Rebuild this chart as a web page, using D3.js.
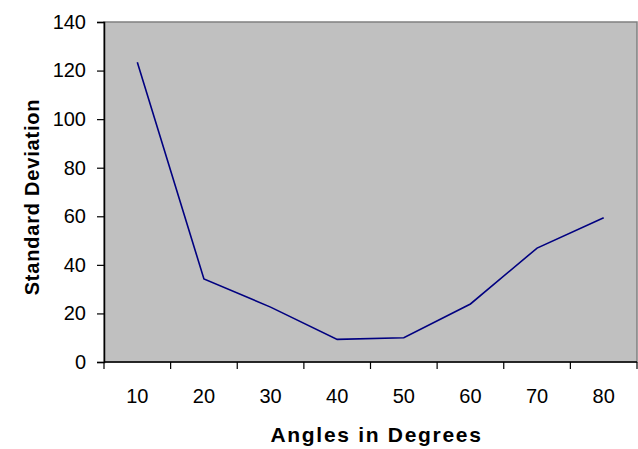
<!DOCTYPE html>
<html>
<head>
<meta charset="utf-8">
<script src="https://cdn.jsdelivr.net/npm/d3@7"></script>
<style>
  body { margin: 0; background: #fff; }
  svg { display: block; }
  text { font-family: "Liberation Sans", Arial, sans-serif; }
</style>
</head>
<body>
<svg id="chart" width="638" height="449"></svg>
<script>
// chart data
const angles = ["10", "20", "30", "40", "50", "60", "70", "80"];
const stdDev = [123.4, 34.2, 22.6, 9.3, 10.0, 23.9, 46.9, 59.4];
const yTicks = [0, 20, 40, 60, 80, 100, 120, 140];

const width = 638, height = 449;
const margin = {top: 22, right: 1, bottom: 87, left: 104};
const chartWidth = width - margin.left - margin.right;
const chartHeight = height - margin.top - margin.bottom;

const svg = d3.select("#chart");
const g = svg.append("g").attr("transform", `translate(${margin.left},${margin.top})`);

const x = d3.scaleBand().domain(angles).range([0, chartWidth]).padding(0);
const y = d3.scaleLinear().domain([0, 140]).range([chartHeight, 0]);

// plot area
g.append("rect")
  .attr("x", 0).attr("y", 0)
  .attr("width", chartWidth).attr("height", chartHeight)
  .attr("fill", "#c0c0c0")
  .attr("stroke", "#808080")
  .attr("stroke-width", 1.5);

// y axis
const gy = g.append("g")
  .call(d3.axisLeft(y).tickValues(yTicks).tickSize(7).tickPadding(10))
  .attr("font-size", 20)
  .attr("font-family", null);
gy.select(".domain").attr("stroke", "#000").attr("stroke-width", 1.5);
gy.selectAll(".tick line").attr("stroke", "#000").attr("stroke-width", 1.2);
gy.selectAll(".tick text")
  .attr("fill", "#000")
  .style("font-size", "20px")
  .attr("x", -18);

// x axis: ticks sit on band boundaries, labels in band centers
const gx = g.append("g").attr("transform", `translate(0,${chartHeight})`);
gx.append("line")
  .attr("x1", 0).attr("x2", chartWidth)
  .attr("stroke", "#000").attr("stroke-width", 1.5);
const bounds = angles.map(a => x(a)).concat([chartWidth]);
gx.selectAll("line.tk")
  .data(bounds)
  .enter().append("line")
  .attr("class", "tk")
  .attr("x1", d => d).attr("x2", d => d)
  .attr("y1", 0).attr("y2", 7)
  .attr("stroke", "#000").attr("stroke-width", 1.2);
gx.selectAll("text")
  .data(angles)
  .enter().append("text")
  .attr("x", d => x(d) + x.bandwidth() / 2)
  .attr("y", 41)
  .attr("text-anchor", "middle")
  .style("font-size", "20px")
  .text(d => d);

// line
const line = d3.line()
  .x((d, i) => x(angles[i]) + x.bandwidth() / 2)
  .y(d => y(d));
g.append("path")
  .datum(stdDev)
  .attr("fill", "none")
  .attr("stroke", "#000080")
  .attr("stroke-width", 1.6)
  .attr("d", line);

// axis titles
svg.append("text")
  .attr("x", margin.left + chartWidth / 2 + 6)
  .attr("y", 442)
  .attr("text-anchor", "middle")
  .style("font-size", "21px")
  .style("font-weight", "bold")
  .style("letter-spacing", "1.7px")
  .text("Angles in Degrees");

svg.append("text")
  .attr("transform", `translate(39,${margin.top + chartHeight / 2 + 5}) rotate(-90)`)
  .attr("text-anchor", "middle")
  .style("font-size", "20px")
  .style("font-weight", "bold")
  .style("letter-spacing", "0.8px")
  .text("Standard Deviation");
</script>
</body>
</html>
